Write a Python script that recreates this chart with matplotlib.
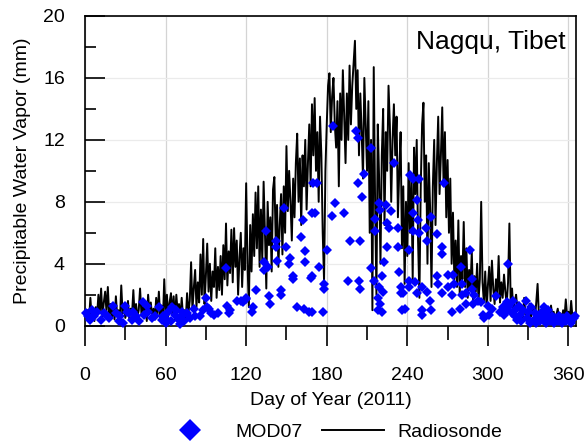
import matplotlib
matplotlib.use('Agg')
import matplotlib.pyplot as plt
from matplotlib.ticker import MultipleLocator

plt.rcParams['font.family'] = ['Liberation Sans', 'DejaVu Sans']

# daily radiosonde PWV (mm), day 1..365
radio_pwv = [
    0.6, 1.0, 0.4, 1.8, 0.5, 0.9, 0.3, 1.2, 0.7, 2.0,
    0.8, 2.4, 0.6, 1.5, 2.2, 0.9, 2.5, 0.7, 1.4, 0.5,
    1.2, 0.4, 1.9, 0.6, 1.0, 0.3, 2.6, 0.8, 1.3, 0.5,
    0.9, 1.6, 0.4, 1.1, 0.7, 2.3, 0.5, 1.4, 0.6, 1.0,
    2.4, 0.8, 1.7, 0.5, 1.2, 0.3, 2.0, 0.9, 1.5, 0.6,
    1.1, 0.4, 1.8, 0.7, 2.2, 0.5, 1.3, 0.3, 3.0, 0.8,
    2.0, 0.6, 1.5, 2.1, 0.7, 1.9, 0.4, 2.0, 0.9, 1.4,
    0.5, 1.8, 0.6, 1.0, 0.3, 2.1, 0.8, 1.6, 4.1, 1.0,
    2.4, 3.6, 1.2, 2.8, 1.5, 4.6, 2.0, 5.6, 1.4, 3.2,
    5.3, 2.2, 4.0, 1.6, 3.5, 2.5, 5.0, 1.8, 3.8, 2.3,
    4.5, 2.0, 5.2, 3.0, 6.6, 2.6, 4.8, 3.4, 6.2, 2.8,
    6.3, 3.8, 5.5, 2.0, 4.4, 6.0, 2.5, 5.0, 3.6, 9.2,
    4.0, 1.2, 6.5, 3.5, 7.2, 4.5, 8.6, 5.0, 9.0, 3.8,
    7.5, 4.2, 9.3, 6.0, 2.4, 8.0, 5.2, 7.0, 3.5, 8.8,
    9.6, 5.5, 7.8, 3.8, 6.5, 8.5, 4.6, 9.0, 6.0, 11.6,
    7.4, 10.0, 8.0, 5.5, 9.5, 7.0, 10.5, 12.4, 8.0, 10.8,
    6.5, 11.0, 9.0, 12.0, 7.5, 10.5, 13.0, 9.0, 14.3, 11.0,
    14.7, 10.0, 12.5, 8.0, 13.5, 11.0, 6.0, 2.9, 10.0, 13.0,
    15.5, 16.3, 12.5, 14.8, 16.0, 13.0, 11.5, 14.5, 9.0, 15.0,
    12.0, 16.5, 13.5, 10.5, 15.0, 12.0, 16.8, 13.0, 15.5, 17.0,
    18.4, 14.0, 16.5, 11.0, 15.0, 12.5, 9.5, 16.0, 13.0, 10.0,
    14.5, 6.0, 12.0, 1.0, 16.7, 8.0, 2.0, 13.0, 9.5, 4.0,
    11.0, 14.0, 6.5, 12.5, 10.0, 15.5, 13.0, 8.0, 12.0, 14.3,
    11.0, 13.5, 7.0, 10.0, 12.5, 5.0, 9.0, 2.7, 8.0, 4.5,
    10.5, 6.0, 9.5, 3.0, 11.5, 8.5, 12.0, 5.5, 1.8, 9.0,
    13.0, 14.4, 8.0, 11.0, 4.0, 10.5, 7.5, 2.5, 9.0, 12.0,
    6.5, 10.5, 13.5, 8.5, 11.0, 14.1, 9.0, 12.5, 7.0, 10.7,
    6.0, 9.5, 4.0, 7.3, 3.0, 5.5, 2.5, 6.8, 2.0, 4.5,
    3.0, 6.7, 2.5, 5.0, 1.8, 3.6, 2.4, 4.8, 1.5, 3.2,
    2.2, 4.0, 1.6, 3.0, 8.0, 2.8, 1.5, 3.5, 1.2, 2.6,
    3.8, 1.6, 4.2, 2.4, 1.4, 3.0, 2.0, 4.5, 1.5, 2.8,
    1.8, 3.3, 2.2, 1.4, 2.8, 6.6, 1.2, 2.4, 0.8, 1.6,
    2.0, 1.0, 1.5, 0.6, 1.2, 0.5, 1.8, 0.7, 1.0, 0.4,
    1.4, 0.6, 0.8, 1.1, 0.4, 1.5, 2.7, 0.6, 0.9, 0.3,
    1.2, 0.5, 0.8, 0.3, 1.0, 0.4, 1.3, 0.6, 0.9, 0.3,
    0.7, 1.1, 0.4, 0.8, 0.3, 1.0, 0.5, 1.7, 0.6, 0.9,
    0.4, 1.6, 0.5, 0.8, 0.4,
]
radio_day = list(range(1, len(radio_pwv) + 1))

# MOD07 retrievals
mod_day = [
    1, 2, 4, 5, 7, 9, 12, 14, 16, 18, 21, 23, 25, 26, 28, 30, 31, 33, 35, 36,
    38, 40, 43, 44, 46, 47, 50, 52, 55, 57, 58, 60,
    61, 62, 64, 65, 67, 68, 70, 71, 72, 73, 74, 76, 78, 81, 82, 86, 88, 90,
    91, 92, 94, 96, 99, 105, 106, 107, 108, 113, 116, 118, 120,
    120, 124, 125, 127, 133, 133, 135, 136, 137, 138, 142, 142, 143, 146, 146, 148,
    150, 152, 153, 155, 155, 158, 161, 162, 163, 164, 164, 167, 168, 169, 170,
    169, 169, 171, 173, 174, 177, 178, 178, 180, 184, 185, 186, 193, 196, 197,
    202, 203, 203, 204, 205, 205, 206, 208, 213, 213, 215, 216, 216, 218, 218,
    219, 219, 220,
    220, 221, 221, 222, 223, 224, 225, 226, 225, 228, 230, 233, 233, 234, 235,
    235, 236, 237, 238, 241, 241, 241, 242, 244, 244, 244, 246, 247, 247, 248,
    249, 249, 251, 251, 251, 254, 255, 255, 257, 258, 258, 262, 262, 263, 266,
    266, 266, 267, 270, 270,
    273, 273, 274, 275, 279, 280, 281, 281, 284, 284, 287, 288, 288, 290, 289,
    293, 295, 296, 297, 300, 301, 303, 306, 309, 311, 312, 314, 315, 315, 316,
    318, 319, 320,
    321, 322, 323, 324, 325, 326, 328, 329, 330, 331, 332, 334, 335, 336, 337,
    339, 340, 341, 342, 343, 344, 345, 346, 348, 349, 350, 352, 353, 355, 356,
    358, 359, 361, 362, 364, 365,
]
mod_pwv = [
    0.8, 0.6, 0.4, 1.0, 0.6, 0.9, 0.4, 0.8, 0.7, 0.5, 1.3, 0.8, 0.3, 0.6, 0.2, 1.3, 0.9, 0.8, 0.4, 0.9,
    0.6, 0.3, 1.5, 0.7, 1.3, 0.9, 0.5, 0.6, 1.2, 0.4, 0.6, 0.2,
    0.4, 0.9, 0.3, 1.2, 0.7, 1.0, 0.4, 0.1, 0.9, 0.7, 0.3, 0.8, 0.5, 1.1, 0.6, 0.6, 1.0, 1.8,
    1.2, 1.1, 0.8, 0.7, 0.8, 3.7, 1.3, 0.8, 1.0, 1.6, 1.6, 1.5, 1.7,
    1.8, 0.9, 1.2, 2.3, 4.1, 3.6, 6.1, 3.8, 1.9, 1.4, 5.1, 5.5, 4.2, 2.3, 2.0, 7.6,
    5.1, 4.0, 4.4, 3.2, 3.0, 1.2, 5.7, 6.8, 1.1, 4.8, 4.1, 0.9, 3.1, 7.3, 9.2,
    3.2, 0.9, 7.3, 9.2, 3.8, 0.9, 2.4, 2.7, 4.9, 7.1, 12.9, 7.9, 7.3, 2.9, 5.5,
    12.6, 12.1, 9.2, 2.9, 5.5, 2.4, 8.3, 9.8, 11.5, 3.7, 2.9, 6.9, 6.1, 1.0, 1.8,
    2.5, 7.9, 7.5,
    1.4, 3.2, 0.9, 2.2, 4.1, 7.8, 6.6, 6.3, 5.1, 7.4, 10.5, 6.3, 5.1, 3.5, 2.5,
    2.1, 1.0, 2.1, 1.1, 4.9, 2.9, 2.5, 9.7, 9.5, 7.3, 6.1, 2.8, 8.1, 2.1, 6.8,
    9.5, 6.0, 2.5, 1.0, 0.7, 6.3, 5.5, 2.2, 1.6, 7.0, 1.0, 5.9, 3.2, 2.7, 5.1,
    4.6, 2.1, 9.2, 3.3, 2.5,
    2.0, 0.9, 3.3, 2.7, 1.1, 3.8, 2.7, 2.0, 2.1, 1.4, 4.9, 3.0, 2.4, 2.0, 1.4,
    1.6, 1.5, 0.7, 0.5, 1.3, 0.7, 1.1, 1.9, 0.9, 1.2, 0.7, 1.5, 4.0, 1.0, 1.3,
    0.8, 1.6, 0.6,
    1.1, 0.4, 1.3, 0.7, 0.3, 1.0, 1.6, 0.5, 0.9, 0.2, 1.2, 0.4, 0.8, 0.2, 0.6,
    0.3, 0.9, 0.4, 1.2, 0.2, 0.7, 1.0, 0.3, 0.6, 0.2, 0.5, 0.3, 0.6, 0.2, 0.5,
    0.3, 0.6, 0.4, 0.2, 0.5, 0.6,
]

fig = plt.figure(figsize=(5.86, 4.47), dpi=100)
ax = fig.add_axes([85 / 586, 1 - 325.7 / 447, 491 / 586, 309.7 / 447])

ax.grid(True, axis='x', color='#d4d4d4', linewidth=0.9)
ax.grid(True, axis='y', color='#ebebeb', linewidth=0.9)
ax.set_axisbelow(True)

ax.plot(mod_day, mod_pwv, linestyle='none', marker='D', markersize=4.6,
        color='#0000ff', markeredgewidth=0, clip_on=False, zorder=3, label='MOD07')
ax.plot(radio_day, radio_pwv, color='black', linewidth=1.4, zorder=2, label='Radiosonde')

ax.set_xlim(0, 365.6)
ax.set_ylim(0, 20)
ax.xaxis.set_major_locator(MultipleLocator(60))
ax.xaxis.set_minor_locator(MultipleLocator(30))
ax.yaxis.set_major_locator(MultipleLocator(4))
ax.yaxis.set_minor_locator(MultipleLocator(2))

ax.tick_params(axis='x', which='major', direction='out', length=14.4, width=1.2, pad=15, labelsize=14)
ax.tick_params(axis='x', which='minor', direction='out', length=10, width=1.2)
ax.tick_params(axis='y', which='major', direction='in', length=14.4, width=1.2, pad=14.4, labelsize=14)
ax.tick_params(axis='y', which='minor', direction='in', length=8, width=1.2)

for s in ax.spines.values():
    s.set_linewidth(1.2)

ax.set_xlabel('Day of Year (2011)', fontsize=14, va='top')
ax.xaxis.set_label_coords(0.5, -0.214)
ax.set_ylabel('Precipitable Water Vapor (mm)', fontsize=14)
ax.yaxis.set_label_coords(-0.11, 0.5)

ax.text(0.978, 0.955, 'Nagqu, Tibet', transform=ax.transAxes, ha='right', va='top', fontsize=19)

fig.legend(loc='center', bbox_to_anchor=(331 / 586, 1 - 432 / 447), ncol=2, frameon=False,
           fontsize=14, markerscale=2.4, handlelength=3.2, handletextpad=0.7, columnspacing=1.0)

fig.savefig('out.png', dpi=100)
